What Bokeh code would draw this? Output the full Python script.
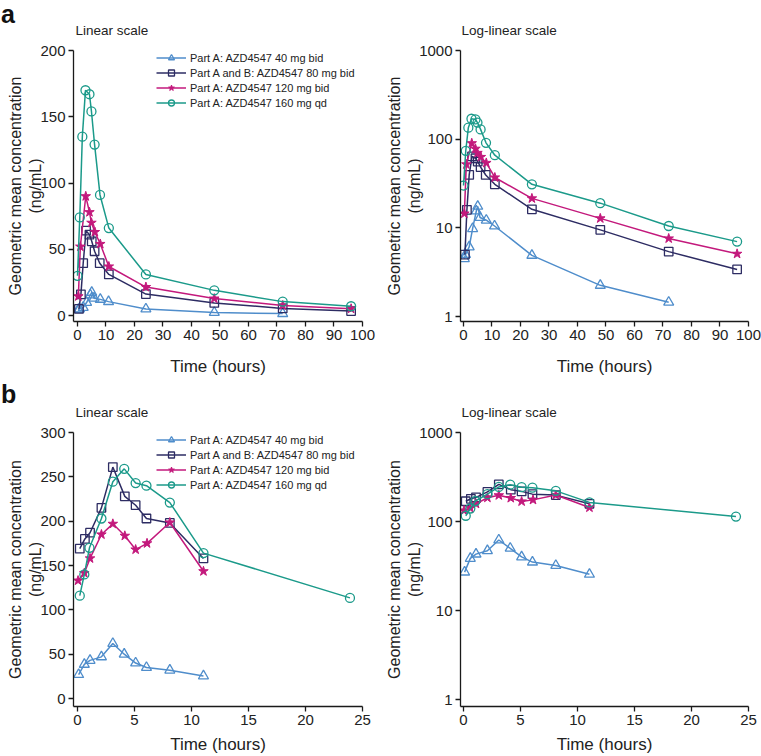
from bokeh.plotting import figure
from bokeh.models import (Range1d, FixedTicker, Legend, LegendItem, NumeralTickFormatter,
                          GridBox, Div)
from bokeh.embed import file_html
from bokeh.resources import INLINE

FONT = "Liberation Sans"
TXT = "#222222"

# ---------------- data ----------------
series_labels = [
    "Part A: AZD4547 40 mg bid",
    "Part A and B: AZD4547 80 mg bid",
    "Part A: AZD4547 120 mg bid",
    "Part A: AZD4547 160 mg qd",
]

# Panel a
t_a_40 = [0.3, 0.7, 2.0, 3.2, 4.5, 5.0, 5.8, 8.0, 10.9, 24, 48, 72]
c_a_40 = [4.5, 5.0, 6.1, 9.8, 15.5, 17.5, 13.1, 12.2, 10.5, 4.9, 2.25, 1.45]
t_a_80 = [0.5, 1.2, 2.0, 3.0, 4.2, 5.0, 6.0, 7.8, 11.0, 24, 48, 72, 96]
c_a_80 = [5.0, 16.0, 39.5, 64.0, 61.0, 56.0, 48.5, 39.5, 31.0, 16.2, 9.5, 5.4, 3.4]
t_a_120 = [0.3, 1.0, 2.9, 4.2, 4.9, 6.1, 8.0, 11.0, 24, 48, 72, 96]
c_a_120 = [14.5, 52, 90, 78, 70, 63, 54, 37, 21.5, 12.8, 7.6, 5.1]
t_a_160 = [0, 0.8, 1.7, 2.8, 4.2, 4.9, 6.0, 7.9, 11.0, 24, 48, 72, 96]
c_a_160 = [30, 74, 135, 170, 167, 154, 129, 91, 66, 31, 19, 10.5, 7.0]

# Panel b
t_b_40 = [0.1, 0.6, 1.1, 2.1, 3.1, 4.1, 5.1, 6.05, 8.1, 11.05]
c_b_40 = [27, 38.5, 43, 47, 62, 50, 40, 35, 32, 25.5]
t_b_80 = [0.2, 0.65, 1.1, 2.1, 3.1, 4.15, 5.1, 6.05, 8.1, 11.05]
c_b_80 = [169, 180, 187, 215, 261, 228, 218, 203, 198, 158]
t_b_120 = [0.05, 0.6, 1.1, 2.1, 3.1, 4.15, 5.1, 6.1, 8.1, 11.05]
c_b_120 = [133, 141.5, 158, 185, 197, 183.5, 168, 175, 198.5, 143.5]
t_b_160 = [0.2, 0.6, 1.05, 2.1, 3.1, 4.1, 5.1, 6.05, 8.1, 11.05, 23.9]
c_b_160 = [116, 140, 170, 203, 244.5, 259, 243, 240, 221, 164, 113.5]

x_ticks_a = [0, 10, 20, 30, 40, 50, 60, 70, 80, 90, 100]
x_ticks_b = [0, 5, 10, 15, 20, 25]
y_ticks_a_lin = [0, 50, 100, 150, 200]
y_ticks_b_lin = [0, 50, 100, 150, 200, 250, 300]
y_ticks_log = [1, 10, 100, 1000]

# ---------------- styles ----------------
COLORS = ["#4f8dcb", "#2d2c63", "#c3197c", "#1b9a8a"]
MARKERS = ["triangle", "square", "star", "circle"]
SIZES = [10, 8.5, 10, 9]
YLABEL = "Geometric mean concentration\n(ng/mL)"


def make_fig(width, height, mbl, mbr, mbt, mbb, xr, yr, log, xticks, yticks,
             subtitle, sub_offset, sub_standoff, xlab_standoff):
    p = figure(width=width, height=height,
               x_range=Range1d(*xr), y_range=Range1d(*yr),
               y_axis_type="log" if log else "linear",
               output_backend="svg", toolbar_location=None,
               min_border_left=mbl, min_border_right=mbr,
               min_border_top=mbt, min_border_bottom=mbb,
               title=subtitle)
    p.title.text_font = FONT
    p.title.text_font_size = "13.5px"
    p.title.text_font_style = "normal"
    p.title.text_color = TXT
    p.title.align = "left"
    p.title.offset = sub_offset
    p.title.standoff = sub_standoff
    p.xgrid.visible = False
    p.ygrid.visible = False
    p.outline_line_color = None
    p.background_fill_color = "white"
    p.border_fill_color = "white"
    p.xaxis.ticker = FixedTicker(ticks=xticks)
    p.yaxis.ticker = FixedTicker(ticks=yticks)
    if log:
        p.yaxis.formatter = NumeralTickFormatter(format="0")
    for ax in (p.xaxis[0], p.yaxis[0]):
        ax.axis_line_color = "#1a1a1a"
        ax.axis_line_width = 1.3
        ax.major_tick_line_color = "#1a1a1a"
        ax.major_tick_line_width = 1.3
        ax.major_tick_out = 5
        ax.major_tick_in = 0
        ax.minor_tick_line_color = None
        ax.major_label_text_font = FONT
        ax.major_label_text_font_size = "15px"
        ax.major_label_text_color = TXT
        ax.major_label_standoff = 3
        ax.axis_label_text_font = FONT
        ax.axis_label_text_font_style = "normal"
        ax.axis_label_text_color = TXT
    p.xaxis.axis_label = "Time (hours)"
    p.xaxis.axis_label_text_font_size = "17px"
    p.xaxis.axis_label_standoff = xlab_standoff
    p.yaxis.axis_label = YLABEL
    p.yaxis.axis_label_text_font_size = "16px"
    p.yaxis.axis_label_standoff = -7
    return p


def add_series(p, data, legend_pos=None):
    items = []
    for i, (t, c) in enumerate(data):
        l = p.line(t, c, line_color=COLORS[i], line_width=1.5)
        if MARKERS[i] == "star":
            s = p.scatter(t, c, marker="star", size=SIZES[i], line_color=COLORS[i],
                          fill_color=COLORS[i], line_width=1)
        else:
            s = p.scatter(t, c, marker=MARKERS[i], size=SIZES[i], line_color=COLORS[i],
                          fill_alpha=0, line_width=1.3)
        items.append(LegendItem(label=series_labels[i], renderers=[l, s]))
    if legend_pos is not None:
        lg = Legend(items=items, location=legend_pos, padding=0, spacing=0,
                    glyph_width=30, glyph_height=15, label_height=12, label_standoff=4,
                    label_text_font=FONT, label_text_font_size="11px",
                    label_text_color=TXT, border_line_alpha=0,
                    background_fill_alpha=0, margin=0)
        p.add_layout(lg)


def panel_letter(letter, dy, line_height):
    html = ('<div style="position: relative; left: 1px; top: %dpx; '
            'font-family: \'Liberation Sans\', Arial, sans-serif; font-weight: bold; '
            'font-size: 25px; line-height: %s; color: #111;">%s</div>'
            % (dy, line_height, letter))
    return Div(text=html, width=24, height=32, margin=0, align="start")


data_a = [(t_a_40, c_a_40), (t_a_80, c_a_80), (t_a_120, c_a_120), (t_a_160, c_a_160)]
data_b = [(t_b_40, c_b_40), (t_b_80, c_b_80), (t_b_120, c_b_120), (t_b_160, c_b_160)]

# Top-left
f1 = make_fig(380, 378, 73, 18, 50, 55, (-1.4, 100), (-4.5, 200), False,
              x_ticks_a, y_ticks_a_lin, "Linear scale", 2, 25, 14)
add_series(f1, data_a, legend_pos=(83, 211))

# Top-right
f2 = make_fig(381, 378, 80, 13, 50, 55, (-1.05, 100), (0.88, 1000), True,
              x_ticks_a, y_ticks_log, "Log-linear scale", 1, 25, 14)
add_series(f2, data_a)

# Bottom-left
f3 = make_fig(380, 378, 73, 18, 54, 49, (-0.35, 25), (-9, 300), False,
              x_ticks_b, y_ticks_b_lin, "Linear scale", 2, 25, 7)
add_series(f3, data_b, legend_pos=(83, 214))

# Bottom-right
f4 = make_fig(381, 378, 80, 13, 54, 49, (-0.26, 25), (0.835, 1000), True,
              x_ticks_b, y_ticks_log, "Log-linear scale", 1, 25, 7)
add_series(f4, data_b)

div_a = panel_letter("a", 0, "normal")
div_b = panel_letter("b", 8, "16px")

grid = GridBox(children=[(f1, 0, 0), (f2, 0, 1), (f3, 1, 0), (f4, 1, 1),
                         (div_a, 0, 0), (div_b, 1, 0)], spacing=0)
open("out.html", "w").write(file_html(grid, INLINE))
